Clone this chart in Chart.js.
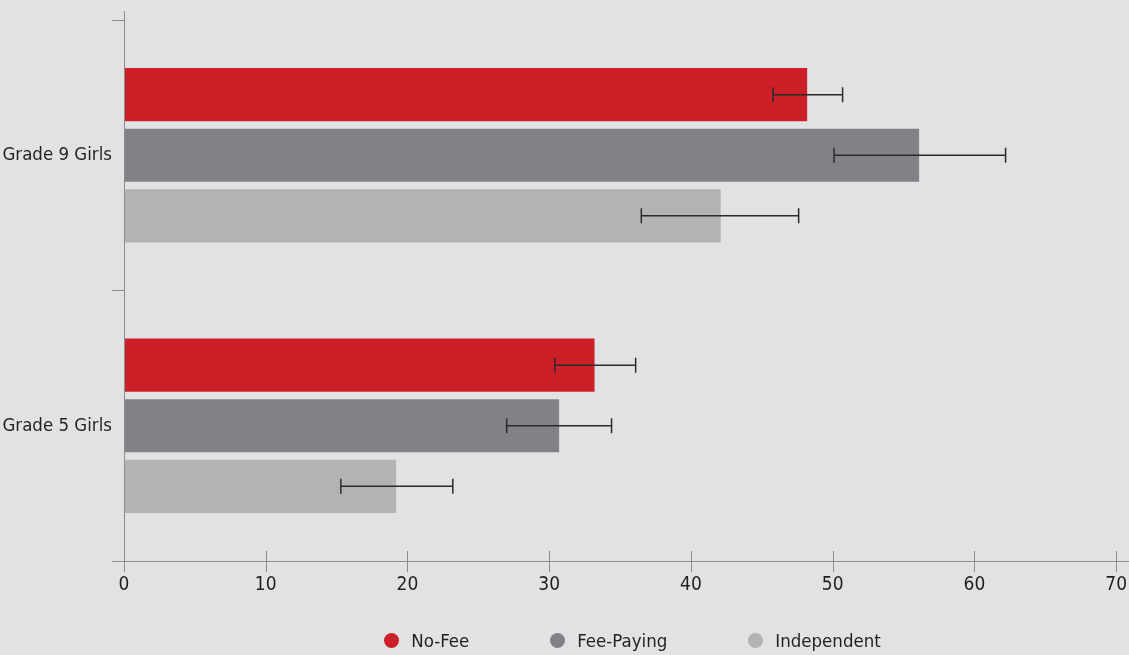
<!DOCTYPE html>
<html>
<head>
<meta charset="utf-8">
<script src="https://cdn.jsdelivr.net/npm/chart.js@4"></script>
<style>
    html, body { margin: 0; padding: 0; background: #e1e2e4; }
    #wrap { width: 1129px; height: 655px; position: relative; }
    #legend {
        position: absolute; left: 0; right: 0; top: 630px;
        display: flex; justify-content: center; gap: 81px;
        padding-left: 136px;
        font-family: "DejaVu Sans Condensed", sans-serif; font-size: 18.5px; color: #231f20;
    }
    #legend .item { display: flex; align-items: center; gap: 12px; }
    #legend .dot { width: 15px; height: 15px; border-radius: 50%; }
</style>
</head>
<body>
<div id="wrap"><canvas id="chart"></canvas><div id="legend"></div></div>
<script>
// Data
const categories = ['Grade 9 Girls', 'Grade 5 Girls'];
const seriesNames = ['No-Fee', 'Fee-Paying', 'Independent'];
const noFee = [48.2, 33.2];
const feePaying = [56.1, 30.7];
const independent = [42.1, 19.2];
// error bar ranges [low, high]
const noFeeErr = [[45.8, 50.7], [30.4, 36.1]];
const feePayingErr = [[50.1, 62.2], [27.0, 34.4]];
const independentErr = [[36.5, 47.6], [15.3, 23.2]];
const xTicks = [0, 10, 20, 30, 40, 50, 60, 70];

const colors = ['#cc1f27', '#818285', '#b3b3b2'];
const axisColor = '#8c8c8c';
const textColor = '#231f20';
const fontFamily = '"DejaVu Sans Condensed", sans-serif';

const values = [noFee, feePaying, independent];
const errors = [noFeeErr, feePayingErr, independentErr];

// error bars drawn through the x scale
const errorBars = {
    id: 'errorBars',
    afterDatasetsDraw(chart) {
        const ctx = chart.ctx;
        const xs = chart.scales.x;
        ctx.save();
        ctx.strokeStyle = '#2b2b2b';
        ctx.lineWidth = 1.5;
        chart.data.datasets.forEach((ds, i) => {
            const meta = chart.getDatasetMeta(i);
            meta.data.forEach((bar, j) => {
                const [lo, hi] = errors[i][j];
                const x1 = xs.getPixelForValue(lo);
                const x2 = xs.getPixelForValue(hi);
                const y = bar.y;
                ctx.beginPath();
                ctx.moveTo(x1, y); ctx.lineTo(x2, y);
                ctx.moveTo(x1, y - 7.5); ctx.lineTo(x1, y + 7.5);
                ctx.moveTo(x2, y - 7.5); ctx.lineTo(x2, y + 7.5);
                ctx.stroke();
            });
        });
        ctx.restore();
    }
};

// x axis tick marks that cross the axis line
const crossTicks = {
    id: 'crossTicks',
    afterDraw(chart) {
        const ctx = chart.ctx;
        const xs = chart.scales.x;
        const ys = chart.scales.y;
        ctx.save();
        ctx.strokeStyle = axisColor;
        ctx.lineWidth = 1;
        xs.ticks.forEach(t => {
            const x = Math.round(xs.getPixelForValue(t.value)) + 0.5;
            ctx.beginPath();
            ctx.moveTo(x, ys.bottom - 10);
            ctx.lineTo(x, ys.bottom + 11);
            ctx.stroke();
        });
        // extend axis lines a little
        ctx.beginPath();
        ctx.moveTo(xs.left - 12, Math.round(ys.bottom) + 0.5);
        ctx.lineTo(chart.width, Math.round(ys.bottom) + 0.5);
        ctx.moveTo(Math.round(xs.left) + 0.5, ys.top - 9);
        ctx.lineTo(Math.round(xs.left) + 0.5, ys.bottom);
        ctx.stroke();
        ctx.restore();
    }
};

new Chart(document.getElementById('chart'), {
    type: 'bar',
    data: {
        labels: categories,
        datasets: seriesNames.map((name, i) => ({
            label: name,
            data: values[i],
            backgroundColor: colors[i],
            borderWidth: 0,
            categoryPercentage: 0.672,
            barPercentage: 0.876
        }))
    },
    options: {
        indexAxis: 'y',
        responsive: true,
        maintainAspectRatio: false,
        animation: false,
        layout: { padding: { top: 20, right: 11, left: 0, bottom: 0 } },
        plugins: {
            tooltip: { enabled: false },
            legend: { display: false }
        },
        scales: {
            x: {
                min: 0,
                max: 70,
                afterBuildTicks(scale) {
                    scale.ticks = xTicks.map(v => ({ value: v }));
                },
                grid: { drawOnChartArea: false, drawTicks: true, tickLength: 11, color: 'rgba(0,0,0,0)' },
                border: { display: false },
                ticks: {
                    color: textColor,
                    padding: 2,
                    maxRotation: 0,
                    font: { family: fontFamily, size: 19 }
                },
                afterFit(scale) { scale.height = 94; }
            },
            y: {
                grid: { drawOnChartArea: false, drawTicks: true, tickLength: 12, color: axisColor, offset: true },
                border: { display: false },
                ticks: {
                    color: textColor,
                    padding: 0,
                    font: { family: fontFamily, size: 18.5 }
                },
                afterFit(scale) { scale.width = 124; }
            }
        }
    },
    plugins: [errorBars, crossTicks]
});

// legend built from the series names and colours
const legendEl = document.getElementById('legend');
seriesNames.forEach((name, i) => {
    const item = document.createElement('div');
    item.className = 'item';
    item.innerHTML = '<span class="dot" style="background:' + colors[i] + '"></span><span>' + name + '</span>';
    legendEl.appendChild(item);
});
</script>
</body>
</html>
